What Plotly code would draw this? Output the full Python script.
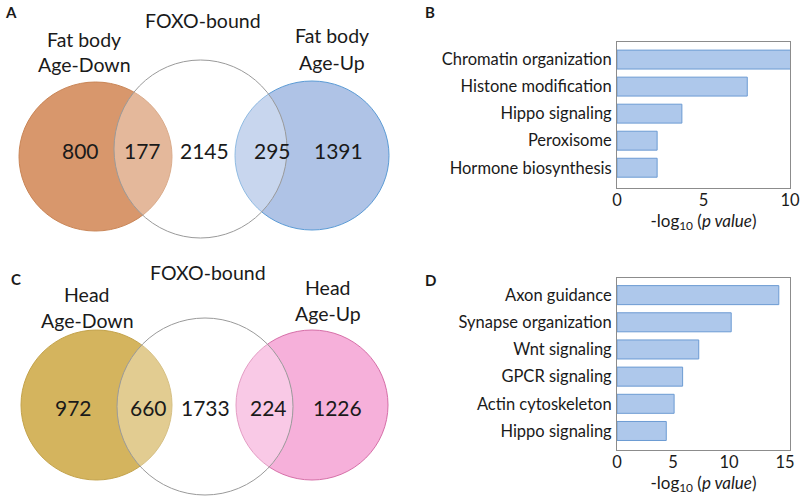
import plotly.graph_objects as go

W, H = 800, 499

# ---------------- data ----------------
venn_a_labels = ["800", "177", "2145", "295", "1391"]
venn_c_labels = ["972", "660", "1733", "224", "1226"]

b_terms = ["Chromatin organization", "Histone modification", "Hippo signaling",
           "Peroxisome", "Hormone biosynthesis"]
b_values = [10.15, 7.53, 3.75, 2.32, 2.32]

d_terms = ["Axon guidance", "Synapse organization", "Wnt signaling",
           "GPCR signaling", "Actin cytoskeleton", "Hippo signaling"]
d_values = [14.45, 10.2, 7.3, 5.86, 5.1, 4.4]

FONT = "Lato"
TXT = "#1a1a1a"

fig = go.Figure()

# bar charts
bar_fill = "#AEC8EB"
bar_line = "#6C9BD3"
fig.add_trace(go.Bar(x=b_values, y=b_terms, orientation="h", width=0.7,
                     marker=dict(color=bar_fill, line=dict(color=bar_line, width=1)),
                     xaxis="x2", yaxis="y2", showlegend=False))
fig.add_trace(go.Bar(x=d_values, y=d_terms, orientation="h", width=0.7,
                     marker=dict(color=bar_fill, line=dict(color=bar_line, width=1)),
                     xaxis="x3", yaxis="y3", showlegend=False))

def px(x):
    return x / W

def py(y):
    return 1 - y / H

shapes = []

def circ(x0, x1, y0, y1, fill, line, lw=1):
    shapes.append(dict(type="circle", xref="x", yref="y", x0=x0, x1=x1, y0=y0, y1=y1,
                       fillcolor=fill, line=dict(color=line, width=lw), layer="above"))

# Venn A
circ(19, 172, 82, 231, "#D8976C", "#C98556")
circ(235, 389, 81, 230, "#AFC3E6", "#5B9BD5")
circ(114, 287, 60, 238, "rgba(255,255,255,0.32)", "#9A9A9A")
# Venn C
circ(21, 172, 330, 480, "#D4B45E", "#C3A24A")
circ(236, 388, 330, 480, "#F6B0DA", "#D66FA8")
circ(117, 293, 318, 495, "rgba(255,255,255,0.32)", "#9A9A9A")

ann = []

def txt(x, y, s, size=19.5, bold=False):
    ann.append(dict(x=x, y=y, xref="x", yref="y", text=("<b>%s</b>" % s) if bold else s,
                    showarrow=False, font=dict(family=FONT, size=size, color=TXT),
                    xanchor="center", yanchor="middle"))

# panel letters
txt(11, 12, "A", 15, True)
txt(430, 12, "B", 15, True)
txt(16, 279, "C", 15, True)
txt(430, 280, "D", 15, True)

# Venn A text
txt(203, 20, "FOXO-bound")
txt(84, 39, "Fat body")
txt(84, 64, "Age-Down")
txt(332, 35, "Fat body")
txt(332, 62, "Age-Up")
for x, s in zip([80, 142, 204, 272, 338], venn_a_labels):
    txt(x, 150, s, 21)

# Venn C text
txt(208, 272, "FOXO-bound")
txt(87, 294, "Head")
txt(87, 320, "Age-Down")
txt(328, 287, "Head")
txt(328, 313, "Age-Up")
for x, s in zip([73, 148, 205, 268, 337], venn_c_labels):
    txt(x, 407, s, 21)

axis_common = dict(showline=True, mirror=True, linecolor="#8C8C8C", linewidth=1,
                   showgrid=False, zeroline=False, ticks="", automargin=False,
                   tickfont=dict(family=FONT, size=16.5, color=TXT))

xtitle = dict(text="-log<sub>10</sub> (<i>p value</i>)", standoff=2,
              font=dict(family=FONT, size=17, color=TXT))

fig.update_layout(
    width=W, height=H, margin=dict(l=0, r=0, t=0, b=0, pad=0, autoexpand=False),
    paper_bgcolor="white", plot_bgcolor="rgba(0,0,0,0)",
    xaxis=dict(domain=[0, 1], range=[0, W], visible=False, fixedrange=True, automargin=False),
    yaxis=dict(domain=[0, 1], range=[H, 0], visible=False, fixedrange=True, automargin=False),
    xaxis2=dict(domain=[px(617), px(790)], anchor="y2", range=[0, 10], tickvals=[0, 5, 10],
                title=xtitle, ticklabelstandoff=-3, **axis_common),
    yaxis2=dict(domain=[py(188), py(42)], anchor="x2", range=[4.75, -0.65],
                ticklabelstandoff=1, **axis_common),
    xaxis3=dict(domain=[px(617), px(790)], anchor="y3", range=[0, 15.45], tickvals=[0, 5, 10, 15],
                title=xtitle, ticklabelstandoff=-3, **axis_common),
    yaxis3=dict(domain=[py(450), py(278)], anchor="x3", range=[5.7, -0.63],
                ticklabelstandoff=1, **axis_common),
    shapes=shapes, annotations=ann, bargap=0.3,
)

fig.write_html("out.html", config={"displayModeBar": False},
               post_script="document.body.style.margin='0px';document.body.style.overflow='hidden';")
